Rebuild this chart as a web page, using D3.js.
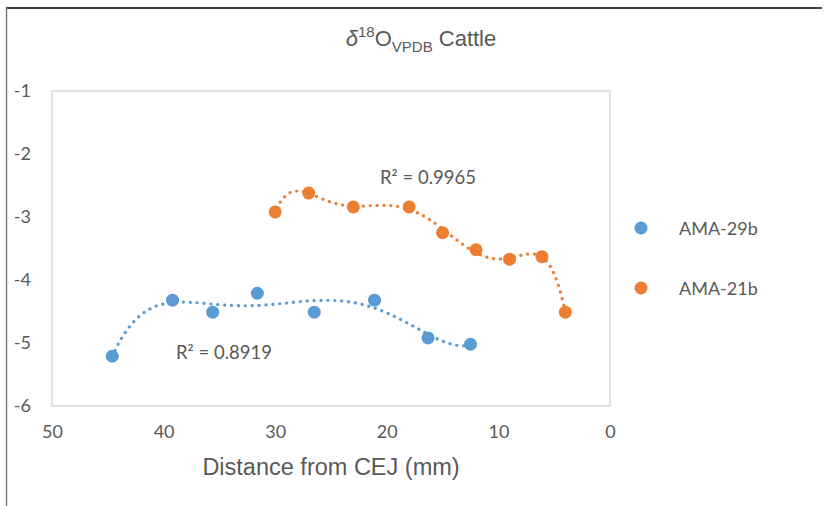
<!DOCTYPE html>
<html>
<head>
<meta charset="utf-8">
<script src="https://cdn.jsdelivr.net/npm/d3@7"></script>
<style>
  html, body { margin: 0; padding: 0; background: #fff; }
  svg { display: block; }
</style>
</head>
<body>
<svg id="chart" width="831" height="506"></svg>
<script>
// Tooth sample series: distance from CEJ (mm) and δ18O (VPDB)
const ama29bDistance = [44.6, 39.2, 35.6, 31.6, 26.5, 21.1, 16.3, 12.5];
const ama29bValue    = [-5.21, -4.32, -4.51, -4.21, -4.51, -4.32, -4.92, -5.02];
const ama21bDistance = [30.0, 27.0, 23.0, 18.0, 15.0, 12.0, 9.0, 6.1, 4.0];
const ama21bValue    = [-2.92, -2.62, -2.84, -2.84, -3.25, -3.52, -3.67, -3.63, -4.51];

const seriesNames = ["AMA-29b", "AMA-21b"];
const seriesColors = ["#5B9BD5", "#ED7D31"];
const rSquaredLabels = ["R² = 0.8919", "R² = 0.9965"];

const xTicks = [50, 40, 30, 20, 10, 0];
const yTicks = [-1, -2, -3, -4, -5, -6];

const svg = d3.select("#chart");
const plot = { left: 52, right: 610, top: 91, bottom: 406 };

const x = d3.scaleLinear().domain([50, 0]).range([plot.left, plot.right]);
const y = d3.scaleLinear().domain([-1, -6]).range([plot.top, plot.bottom]);

// outer frame (top and left edges)
svg.append("line").attr("x1", 6).attr("x2", 822).attr("y1", 8).attr("y2", 8)
  .attr("stroke", "#000").attr("stroke-width", 1.5);
svg.append("line").attr("x1", 6.5).attr("x2", 6.5).attr("y1", 8).attr("y2", 506)
  .attr("stroke", "#7f7f7f").attr("stroke-width", 1.5);

// plot area border
svg.append("rect")
  .attr("x", plot.left).attr("y", plot.top)
  .attr("width", plot.right - plot.left).attr("height", plot.bottom - plot.top)
  .attr("fill", "none").attr("stroke", "#d9d9d9").attr("stroke-width", 1.5);

// axes (labels only)
const tickFont = "Lato, sans-serif";
const plainNumber = d => String(d);
const xAxis = d3.axisBottom(x).tickValues(xTicks).tickSize(0).tickPadding(19).tickFormat(plainNumber);
const gx = svg.append("g").attr("transform", `translate(0,${plot.bottom})`).call(xAxis);
gx.select(".domain").remove();
gx.selectAll("text").attr("font-family", tickFont).attr("font-size", 18).attr("fill", "#595959");

const yAxis = d3.axisLeft(y).tickValues(yTicks).tickSize(0).tickPadding(21).tickFormat(plainNumber);
const gy = svg.append("g").attr("transform", `translate(${plot.left},0)`).call(yAxis);
gy.select(".domain").remove();
gy.selectAll("text").attr("font-family", tickFont).attr("font-size", 18).attr("fill", "#595959");

// title
const title = svg.append("text")
  .attr("x", 421).attr("y", 46).attr("text-anchor", "middle")
  .attr("font-family", "Liberation Sans, Arial, sans-serif").attr("font-size", 22).attr("fill", "#595959");
title.append("tspan").attr("font-style", "italic").text("δ");
title.append("tspan").attr("font-size", 15).attr("dy", -9).text("18");
title.append("tspan").attr("dy", 9).text("O");
title.append("tspan").attr("font-size", 15).attr("dy", 6).text("VPDB");
title.append("tspan").attr("dy", -6).text(" Cattle");

// x axis title
svg.append("text")
  .attr("x", 331).attr("y", 475).attr("text-anchor", "middle")
  .attr("font-family", "Liberation Sans, Arial, sans-serif").attr("font-size", 23.5).attr("fill", "#595959")
  .text("Distance from CEJ (mm)");

// least-squares polynomial fit
function polyFit(xs, ys, degree) {
  const mx = d3.mean(xs), sx = (d3.max(xs) - d3.min(xs)) / 2;
  const t = xs.map(v => (v - mx) / sx);
  const n = degree + 1;
  const A = Array.from({ length: n }, () => new Array(n + 1).fill(0));
  t.forEach((tv, i) => {
    for (let r = 0; r < n; r++) {
      for (let c = 0; c < n; c++) A[r][c] += Math.pow(tv, r + c);
      A[r][n] += ys[i] * Math.pow(tv, r);
    }
  });
  for (let i = 0; i < n; i++) {
    let p = i;
    for (let k = i + 1; k < n; k++) if (Math.abs(A[k][i]) > Math.abs(A[p][i])) p = k;
    [A[i], A[p]] = [A[p], A[i]];
    for (let k = i + 1; k < n; k++) {
      const f = A[k][i] / A[i][i];
      for (let c = i; c <= n; c++) A[k][c] -= f * A[i][c];
    }
  }
  const coef = new Array(n).fill(0);
  for (let i = n - 1; i >= 0; i--) {
    let s = A[i][n];
    for (let c = i + 1; c < n; c++) s -= A[i][c] * coef[c];
    coef[i] = s / A[i][i];
  }
  return v => {
    const tv = (v - mx) / sx;
    return coef.reduce((acc, c, k) => acc + c * Math.pow(tv, k), 0);
  };
}

const series = [
  { xs: ama29bDistance, ys: ama29bValue, degree: 5 },
  { xs: ama21bDistance, ys: ama21bValue, degree: 6 }
];

const line = d3.line().x(d => x(d[0])).y(d => y(d[1])).curve(d3.curveLinear);

series.forEach((s, i) => {
  const f = polyFit(s.xs, s.ys, s.degree);
  const lo = d3.min(s.xs), hi = d3.max(s.xs);
  const pts = d3.range(0, 201).map(k => {
    const v = lo + (hi - lo) * k / 200;
    return [v, f(v)];
  });
  svg.append("path").datum(pts)
    .attr("d", line).attr("fill", "none")
    .attr("stroke", seriesColors[i]).attr("stroke-width", 3.2)
    .attr("stroke-linecap", "round").attr("stroke-dasharray", "0.1 6.8");
});

series.forEach((s, i) => {
  svg.append("g").selectAll("circle")
    .data(s.xs.map((v, k) => [v, s.ys[k]]))
    .join("circle")
    .attr("cx", d => x(d[0])).attr("cy", d => y(d[1])).attr("r", 6.5)
    .attr("fill", seriesColors[i]);
});

// R² labels
const labelFont = "Lato, sans-serif";
svg.append("text").attr("x", 176).attr("y", 359).attr("font-family", labelFont)
  .attr("font-size", 18.5).attr("fill", "#595959").text(rSquaredLabels[0]);
svg.append("text").attr("x", 380).attr("y", 184).attr("font-family", labelFont)
  .attr("font-size", 18.5).attr("fill", "#595959").text(rSquaredLabels[1]);

// legend
const legend = svg.append("g");
seriesNames.forEach((name, i) => {
  const ly = 228 + i * 60;
  legend.append("circle").attr("cx", 641).attr("cy", ly).attr("r", 6.5).attr("fill", seriesColors[i]);
  legend.append("text").attr("x", 679).attr("y", ly + 6.5)
    .attr("font-family", labelFont).attr("font-size", 18).attr("fill", "#595959").text(name);
});
</script>
</body>
</html>
